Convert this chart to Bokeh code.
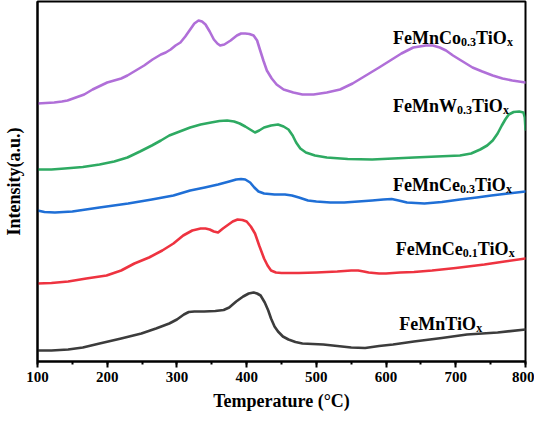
from bokeh.plotting import figure
from bokeh.models import Range1d, SingleIntervalTicker, FixedTicker, Label
from bokeh.embed import file_html
from bokeh.resources import INLINE

# ---- data: temperature (degC) and intensity (a.u., curves stacked with offsets) ----
co_t = [100, 112, 124, 135, 143, 155, 167, 179, 191, 200, 210, 220, 229, 241, 253, 265, 277, 284, 291, 298,
        305, 312, 319, 325, 331, 336, 341, 347, 353, 358, 362, 368, 377, 386, 392, 398, 404, 410, 415, 419,
        424, 429, 436, 443, 453, 467, 480, 496, 515, 534, 552, 571, 590, 606, 622, 639, 648, 657, 667, 677,
        686, 696, 710, 724, 738, 753, 767, 781, 800]
co_i = [258, 258.5, 259, 260, 261, 264, 267, 272, 276, 279, 281, 283, 286, 291, 296, 302, 307, 309, 312, 316,
        319, 325, 332, 338, 341, 340, 337, 330, 322, 318, 316, 317, 321, 326, 328, 328, 327.5, 326, 321, 312,
        301, 291, 283, 277, 272, 269, 267, 267, 269, 272, 278, 286, 294, 301, 308, 314, 315, 316, 316, 314,
        311, 306, 300, 294, 290, 286, 283, 281, 279]

w_t = [100, 120, 139, 165, 189, 210, 229, 247, 264, 277, 289, 304, 319, 334, 349, 361, 372, 382, 390, 398,
       405, 412, 418, 425, 435, 445, 453, 460, 466, 471, 477, 485, 498, 515, 545, 580, 610, 640, 673, 706,
       722, 735, 745, 753, 760, 766, 771, 776, 783, 791, 797, 799, 800]
w_i = [192, 192, 193, 194.5, 197, 200, 204, 210, 216, 221, 226, 230, 234, 237, 239, 240.5, 241, 240, 238, 235,
       232, 229, 231, 234, 236, 237, 235, 232, 226, 219, 213, 209, 206, 204, 202.5, 202, 203, 204, 205, 206,
       208, 212, 216, 221, 228, 236, 242, 247, 249.5, 250, 249, 244, 232]

ce3_t = [100, 110, 125, 150, 189, 230, 264, 295, 319, 340, 359, 375, 385, 392, 398, 405, 411, 417, 425, 440,
         455, 465, 475, 488, 500, 520, 540, 560, 580, 596, 608, 618, 630, 655, 680, 706, 730, 751, 775, 800]
ce3_i = [151, 149.5, 149, 150, 154, 158, 162, 166, 171, 174, 177, 180, 182, 182.5, 182, 179, 174, 170, 168, 167,
         167, 166, 164, 161, 160, 159, 159, 160, 161, 162, 162.5, 161, 159, 158, 159.5, 162, 164, 166, 168, 170]

ce1_t = [100, 120, 144, 170, 199, 220, 239, 260, 279, 295, 309, 322, 334, 341, 347, 353, 359, 366, 372, 380,
         387, 394, 400, 406, 412, 418, 425, 430, 435, 442, 450, 475, 500, 530, 550, 560, 568, 575, 590, 600,
         620, 640, 666, 700, 741, 770, 800]
ce1_i = [78, 78.5, 80, 83, 86, 91, 98, 104, 111, 118, 126, 131, 133, 133, 132, 130, 129, 133, 136, 140,
         142, 141.5, 140, 135, 128, 116, 103, 96, 91, 89, 88.5, 88.5, 89, 90, 91, 91, 90, 89, 88, 88,
         89, 89.5, 91, 93.5, 97, 100, 103]

fm_t = [100, 120, 144, 165, 189, 220, 249, 270, 289, 300, 310, 317, 325, 339, 355, 367, 375, 385, 395, 403,
        410, 415, 420, 426, 431, 435, 440, 445, 452, 460, 470, 480, 495, 510, 530, 550, 570, 590, 610, 640,
        680, 716, 760, 800]
fm_i = [11, 11, 12, 14, 18, 23, 28, 33, 38, 42, 47, 49.5, 50, 50, 50.5, 51.5, 54, 60, 65, 68,
        69, 68, 66, 59, 51, 43, 35, 30, 25, 22, 19.5, 18, 17.5, 17, 15.5, 14, 13.5, 15.5, 17, 20,
        23.5, 27, 29, 32]

colors = ["#b06fd8", "#2eaa62", "#1f6fd6", "#ee3340", "#3c3c3c"]
series = [(co_t, co_i), (w_t, w_i), (ce3_t, ce3_i), (ce1_t, ce1_i), (fm_t, fm_i)]

# curve labels: parts alternate normal text / subscript
label_parts = [
    ["FeMnCo", "0.3", "TiO", "x"],
    ["FeMnW", "0.3", "TiO", "x"],
    ["FeMnCe", "0.3", "TiO", "x"],
    ["FeMnCe", "0.1", "TiO", "x"],
    ["FeMnTiO", "x"],
]
label_x = [610, 610, 610, 614, 619]
label_y = [324, 256, 177, 113, 38]

x_title = "Temperature (°C)"
y_title = "Intensity(a.u.)"

FONT = "Liberation Serif"
MAIN = 18
SUB = 12

# approximate advance widths (em) of Times / Liberation Serif Bold
ADV = {"F": .611, "e": .444, "M": .944, "n": .556, "C": .722, "o": .5, "T": .667, "i": .278,
       "O": .778, "W": 1.0, "x": .5, "0": .5, "1": .5, "3": .5, ".": .25}


def text_width(s, size):
    return sum(ADV.get(c, .5) for c in s) * size


p = figure(width=534, height=416, output_backend="svg", toolbar_location=None,
           x_range=Range1d(100, 800), y_range=Range1d(0, 360),
           min_border_left=35, min_border_right=9, min_border_top=1, min_border_bottom=55)

p.xgrid.visible = False
p.ygrid.visible = False
p.outline_line_color = "black"
p.outline_line_width = 2
p.background_fill_color = "white"
p.border_fill_color = "white"

for (t, i), c in zip(series, colors):
    p.line(t, i, line_color=c, line_width=2.6, line_join="round", line_cap="round")

# x axis
xa = p.xaxis[0]
xa.ticker = SingleIntervalTicker(interval=100, num_minor_ticks=2)
xa.axis_line_width = 2
xa.major_tick_line_width = 2
xa.minor_tick_line_width = 2
xa.major_tick_in = 0
xa.major_tick_out = 6
xa.minor_tick_in = 0
xa.minor_tick_out = 3
xa.major_label_text_font = FONT
xa.major_label_text_font_style = "bold"
xa.major_label_text_font_size = "15px"
xa.major_label_text_color = "black"
xa.major_label_standoff = 4
xa.axis_label = x_title
xa.axis_label_text_font = FONT
xa.axis_label_text_font_style = "bold"
xa.axis_label_text_font_size = "18px"
xa.axis_label_text_color = "black"
xa.axis_label_standoff = 6

# y axis (no ticks, no tick labels)
ya = p.yaxis[0]
ya.ticker = FixedTicker(ticks=[])
ya.axis_line_width = 2
ya.major_tick_out = 0
ya.major_tick_in = 0
ya.minor_tick_out = 0
ya.major_label_standoff = 0
ya.axis_label = y_title
ya.axis_label_text_font = FONT
ya.axis_label_text_font_style = "bold"
ya.axis_label_text_font_size = "18px"
ya.axis_label_text_color = "black"
ya.axis_label_standoff = 14

for parts, lx, ly in zip(label_parts, label_x, label_y):
    off = 0.0
    for k, s in enumerate(parts):
        sub = (k % 2 == 1)
        size = SUB if sub else MAIN
        p.add_layout(Label(x=lx, y=ly, x_offset=off, y_offset=(-4 if sub else 0), text=s,
                           text_font=FONT, text_font_style="bold", text_font_size=f"{size}px",
                           text_color="black", text_baseline="alphabetic", text_align="left"))
        off += text_width(s, size)

open("out.html", "w").write(file_html(p, INLINE))
